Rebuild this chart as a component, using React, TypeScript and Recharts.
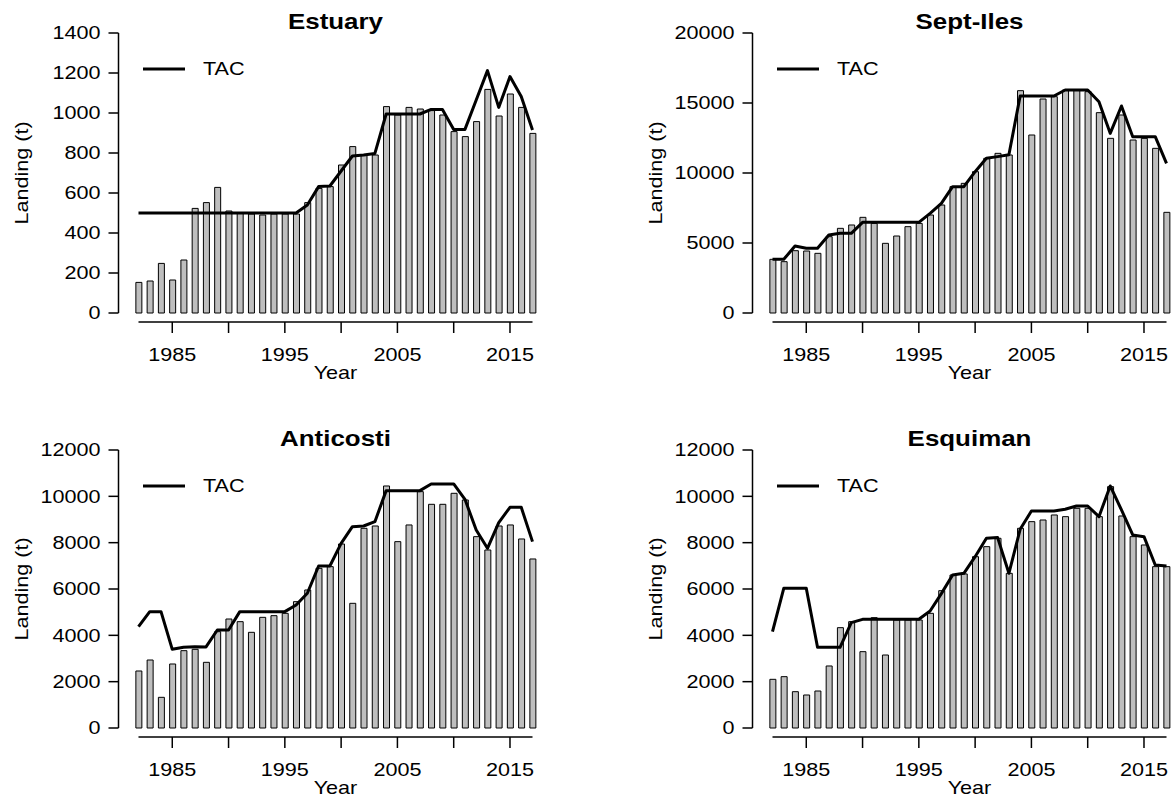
import React from "react";
import { Bar, ComposedChart, Legend, Line, XAxis, YAxis } from "recharts";

const years = [
  1982, 1983, 1984, 1985, 1986, 1987, 1988, 1989, 1990, 1991, 1992, 1993,
  1994, 1995, 1996, 1997, 1998, 1999, 2000, 2001, 2002, 2003, 2004, 2005,
  2006, 2007, 2008, 2009, 2010, 2011, 2012, 2013, 2014, 2015, 2016, 2017,
];
const yearTicks = [1985, 1990, 1995, 2000, 2005, 2010, 2015];
const yearLabels = [1985, 1995, 2005, 2015];

const estuaryLanding = [
  153, 160, 248, 165, 265, 523, 552, 628, 510, 498, 495, 490, 495, 495, 495,
  552, 623, 632, 740, 832, 790, 790, 1032, 990, 1028, 1020, 1012, 990, 907,
  882, 957, 1118, 985, 1095, 1028, 898,
];
const estuaryTac = [
  500, 500, 500, 500, 500, 500, 500, 500, 500, 500, 500, 500, 500, 500, 500,
  540, 632, 635, 710, 785, 790, 798, 995, 995, 995, 995, 1018, 1018, 918, 918,
  1065, 1212, 1028, 1182, 1082, 915,
];
const estuaryTicks = [0, 200, 400, 600, 800, 1000, 1200, 1400];

const septIlesLanding = [
  3833, 3667, 4452, 4428, 4262, 5452, 6047, 6286, 6833, 6400, 4976, 5500, 6167,
  6400, 7000, 7714, 9024, 9262, 10095, 11048, 11405, 11286, 15881, 12714,
  15286, 15452, 15929, 15929, 15810, 14310, 12476, 14143, 12357, 12476, 11762,
  7190,
];
const septIlesTac = [
  3833, 3833, 4786, 4619, 4619, 5571, 5690, 5690, 6476, 6476, 6476, 6476, 6476,
  6476, 7119, 7833, 9024, 9024, 10095, 11048, 11170, 11300, 15500, 15500,
  15500, 15500, 15929, 15929, 15929, 15095, 12833, 14786, 12595, 12595, 12595,
  10690,
];
const septIlesTicks = [0, 5000, 10000, 15000, 20000];

const anticostiLanding = [
  2461, 2935, 1324, 2763, 3338, 3396, 2835, 4158, 4705, 4590, 4130, 4777, 4849,
  4950, 5454, 5958, 6893, 6965, 7943, 5382, 8620, 8720, 10447, 8044, 8764,
  10203, 9656, 9656, 10131, 9843, 8260, 7684, 8720, 8764, 8159, 7296,
];
const anticostiTac = [
  4374, 5022, 5022, 3396, 3482, 3511, 3500, 4231, 4231, 5022, 5022, 5022, 5022,
  5022, 5310, 5815, 6993, 6993, 7972, 8691, 8720, 8907, 10246, 10246, 10246,
  10246, 10533, 10533, 10533, 9872, 8548, 7756, 8864, 9526, 9526, 8044,
];

const esquimanLanding = [
  2101, 2216, 1568, 1425, 1597, 2677, 4331, 4590, 3295, 4763, 3151, 4662, 4662,
  4662, 4950, 5928, 6605, 6650, 7396, 7828, 8189, 6677, 8620, 8907, 8979, 9195,
  9123, 9483, 9483, 9123, 10419, 9152, 8260, 7900, 6965, 6965,
];
const esquimanTac = [
  4158, 6030, 6030, 6030, 3482, 3482, 3482, 4547, 4691, 4691, 4691, 4691, 4691,
  4691, 5050, 5800, 6605, 6677, 7396, 8189, 8218, 6677, 8576, 9368, 9368, 9368,
  9440, 9584, 9584, 9123, 10447, 9411, 8332, 8260, 7037, 6993,
];
const southTicks = [0, 2000, 4000, 6000, 8000, 10000, 12000];

// layout (px)
const FONT = '"Liberation Sans", Arial, Helvetica, sans-serif';
const STRETCH = 1.2; // the original text is set wider than Arial
const CHART_W = 539;
const PLOT_LEFT = 138.5;
const PLOT_RIGHT = 532.5;
const GAP_Y = 9;
const X_AXIS_H = 60;

const panels = [
  { title: "Estuary", landing: estuaryLanding, tac: estuaryTac, ticks: estuaryTicks, left: 0, top: 0, height: 398, plotTop: 33, plotH: 280 },
  { title: "Sept-Iles", landing: septIlesLanding, tac: septIlesTac, ticks: septIlesTicks, left: 634, top: 0, height: 398, plotTop: 33, plotH: 280 },
  { title: "Anticosti", landing: anticostiLanding, tac: anticostiTac, ticks: southTicks, left: 0, top: 417, height: 381, plotTop: 33, plotH: 278 },
  { title: "Esquiman", landing: esquimanLanding, tac: esquimanTac, ticks: southTicks, left: 634, top: 417, height: 381, plotTop: 33, plotH: 278 },
];

const Txt = ({ x, y, children, anchor = "middle", size = 18, bold = false, rotate = 0, dy = "0" }: any) => (
  <text
    transform={`translate(${x},${y}) rotate(${rotate}) scale(${STRETCH},1)`}
    textAnchor={anchor}
    dy={dy}
    fontFamily={FONT}
    fontSize={size}
    fontWeight={bold ? "bold" : "normal"}
    fill="#000"
  >
    {children}
  </text>
);

const YTick = (props: any) => (
  <Txt x={props.x} y={props.y} anchor="end" dy="0.36em">
    {props.payload.value}
  </Txt>
);

const XTick = (props: any) =>
  yearLabels.includes(props.payload.value) ? (
    <Txt x={props.x} y={props.y} dy="0.71em">
      {props.payload.value}
    </Txt>
  ) : (
    <g />
  );

const TacLegend = (props: any) => {
  const item = (props.payload || []).find((p: any) => p.type !== "none");
  return (
    <svg width={120} height={28}>
      <line x1={3} x2={45} y1={14} y2={14} stroke="#000" strokeWidth={3} />
      <Txt x={63} y={14} anchor="start" dy="0.36em">
        {item ? item.value : "TAC"}
      </Txt>
    </svg>
  );
};

const Panel = ({ p }: any) => {
  const data = years.map((year, i) => ({ year, landing: p.landing[i], tac: p.tac[i] }));
  const yMax = p.ticks[p.ticks.length - 1];
  const bottom = p.height - p.plotTop - p.plotH - GAP_Y - X_AXIS_H;
  const cx = (PLOT_LEFT + PLOT_RIGHT) / 2;
  const axisBottom = p.plotTop + p.plotH + GAP_Y;
  return (
    <div style={{ position: "absolute", left: p.left, top: p.top }}>
      <ComposedChart
        width={CHART_W}
        height={p.height}
        data={data}
        margin={{ top: p.plotTop, right: CHART_W - PLOT_RIGHT, bottom, left: 0 }}
      >
        <XAxis xAxisId="gap" type="number" dataKey="year" domain={[1982, 2017]} height={GAP_Y} axisLine={false} tickLine={false} tick={false} />
        <XAxis
          xAxisId="main"
          type="number"
          dataKey="year"
          domain={[1982, 2017]}
          ticks={yearTicks}
          interval={0}
          height={X_AXIS_H}
          tickSize={11}
          tickMargin={15}
          axisLine={{ stroke: "#000", strokeWidth: 1.5 }}
          tickLine={{ stroke: "#000", strokeWidth: 1.5 }}
          tick={<XTick />}
        />
        <YAxis yAxisId="gap" width={20} domain={[0, yMax]} axisLine={false} tickLine={false} tick={false} />
        <YAxis
          yAxisId="main"
          width={PLOT_LEFT - 20}
          domain={[0, yMax]}
          ticks={p.ticks}
          interval={0}
          tickSize={10}
          tickMargin={8}
          axisLine={{ stroke: "#000", strokeWidth: 1.5 }}
          tickLine={{ stroke: "#000", strokeWidth: 1.5 }}
          tick={<YTick />}
        />
        <Bar xAxisId="main" yAxisId="main" dataKey="landing" barSize={6} fill="#bebebe" stroke="#000" strokeWidth={1} legendType="none" isAnimationActive={false} />
        <Line xAxisId="main" yAxisId="main" type="linear" dataKey="tac" name="TAC" stroke="#000" strokeWidth={3} strokeLinejoin="round" dot={false} activeDot={false} isAnimationActive={false} />
        <Legend layout="vertical" align="center" verticalAlign="middle" wrapperStyle={{ left: 140, top: p.plotTop + 22, width: "auto" }} content={<TacLegend />} />
        <Txt x={cx} y={p.plotTop - 4} size={21.6} bold>
          {p.title}
        </Txt>
        <Txt x={22} y={p.plotTop + p.plotH / 2} rotate={-90} dy="0.36em">
          Landing (t)
        </Txt>
        <Txt x={cx} y={axisBottom + 57}>
          Year
        </Txt>
      </ComposedChart>
    </div>
  );
}

export default function App() {
  return (
    <div style={{ position: "absolute", left: 0, top: 0, width: 1173, height: 798, overflow: "hidden", background: "#fff" }}>
      {panels.map((p) => (
        <Panel key={p.title} p={p} />
      ))}
    </div>
  );
}
